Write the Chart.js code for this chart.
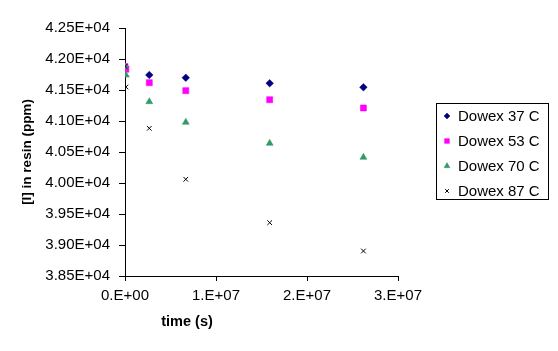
<!DOCTYPE html>
<html><head><meta charset="utf-8">
<script src="https://cdn.jsdelivr.net/npm/chart.js@4.4.0/dist/chart.umd.min.js"></script>
<style>html,body{margin:0;padding:0;background:#fff}</style>
</head><body>
<canvas id="c" width="558" height="351"></canvas>
<script>
// ---- data ----
const seriesNames = ['Dowex 37 C', 'Dowex 53 C', 'Dowex 70 C', 'Dowex 87 C'];
const time37 = [0, 2.67e6, 6.68e6, 1.59e7, 2.62e7];
const conc37 = [41876, 41742, 41698, 41608, 41544];
const time53 = [0, 1e5, 2.67e6, 6.68e6, 1.59e7, 2.62e7];
const conc53 = [41880, 41835, 41618, 41489, 41343, 41210];
const time70 = [0, 1e5, 2.67e6, 6.68e6, 1.59e7, 2.62e7];
const conc70 = [41880, 41740, 41311, 40979, 40640, 40414];
const time87 = [0, 1e5, 2.67e6, 6.68e6, 1.59e7, 2.62e7];
const conc87 = [41880, 41548, 40882, 40060, 39360, 38903];
const yTickValues = [38500, 39000, 39500, 40000, 40500, 41000, 41500, 42000, 42500];
const xTickValues = [0, 1e7, 2e7, 3e7];
const xTitle = 'time (s)';
const yTitle = '[I] in resin (ppm)';

const FONT = "'Liberation Sans', Arial, sans-serif";

function pts(t, c) { return t.map((v, i) => ({x: v, y: c[i]})); }
function fmtY(v) {
  const [m, e] = Number(v).toExponential(2).split('e');
  const sign = e[0] === '-' ? '-' : '+';
  const d = e.replace(/[+-]/, '').padStart(2, '0');
  return m + 'E' + sign + d;
}
function fmtX(v) {
  const [m, e] = Number(v).toExponential(0).split('e');
  const sign = e[0] === '-' ? '-' : '+';
  const d = e.replace(/[+-]/, '').padStart(2, '0');
  return m + '.E' + sign + d;
}

const styles = [
  {color: '#000080', pointStyle: 'rectRot', r: 3.8, lr: 3},
  {color: '#FF00FF', pointStyle: 'rect', r: 4.3, lr: 3.4},
  {color: '#339966', pointStyle: 'triangle', r: 4, lr: 3.4},
  {color: '#000000', pointStyle: 'crossRot', r: 3.3, lr: 2.6},
];
const seriesData = [pts(time37, conc37), pts(time53, conc53), pts(time70, conc70), pts(time87, conc87)];

const datasets = seriesNames.map((name, i) => {
  const s = styles[i];
  const isCross = s.pointStyle === 'crossRot';
  return {
    label: name,
    data: seriesData[i],
    pointStyle: s.pointStyle,
    pointRadius: s.r,
    pointHoverRadius: s.r,
    backgroundColor: isCross ? 'rgba(0,0,0,0)' : s.color,
    borderColor: s.color,
    pointBorderWidth: isCross ? 1 : 0.5,
    showLine: false,
    order: 3 - i,
    _legendRadius: s.lr,
  };
});

const legendPlugin = {
  id: 'boxLegend',
  afterDraw(chart) {
    const ctx = chart.ctx;
    ctx.save();
    ctx.strokeStyle = '#000';
    ctx.lineWidth = 1;
    ctx.strokeRect(436.5, 103.5, 112, 96);
    ctx.font = '15px ' + FONT;
    ctx.fillStyle = '#000';
    ctx.textBaseline = 'middle';
    ctx.textAlign = 'left';
    chart.data.datasets.forEach((ds, i) => {
      const y = 116 + i * 25;
      ctx.fillStyle = ds.backgroundColor;
      ctx.strokeStyle = ds.borderColor;
      ctx.lineWidth = ds.pointStyle === 'crossRot' ? 1 : 0.5;
      Chart.helpers.drawPoint(ctx, {pointStyle: ds.pointStyle, radius: ds._legendRadius, rotation: 0, borderWidth: ctx.lineWidth}, 447, y);
      ctx.fillStyle = '#000';
      ctx.fillText(ds.label, 458, y + 1);
    });
    // x axis title
    ctx.font = 'bold 14.5px ' + FONT;
    ctx.textAlign = 'center';
    ctx.fillText(xTitle, 187, 322);
    ctx.restore();
  }
};

new Chart(document.getElementById('c'), {
  type: 'scatter',
  data: {datasets},
  options: {
    responsive: false,
    animation: false,
    devicePixelRatio: 1,
    layout: {padding: {top: 28, right: 160, left: 0, bottom: 0}},
    plugins: {legend: {display: false}, tooltip: {enabled: false}},
    scales: {
      x: {
        type: 'linear',
        min: 0, max: 3e7,
        afterBuildTicks: s => { s.ticks = xTickValues.map(v => ({value: v})); },
        afterFit: s => { s.height = 75; },
        border: {color: '#000', width: 1},
        grid: {display: true, drawOnChartArea: false, drawTicks: true, tickLength: 5, color: '#000'},
        ticks: {callback: v => fmtX(v), color: '#000', font: {family: FONT, size: 15}, padding: 6, maxRotation: 0, autoSkip: false},
        title: {display: false},
      },
      y: {
        type: 'linear',
        min: 38500, max: 42500,
        afterBuildTicks: s => { s.ticks = yTickValues.map(v => ({value: v})); },
        afterFit: s => { s.width = 125; },
        border: {color: '#000', width: 1},
        grid: {display: true, drawOnChartArea: false, drawTicks: true, tickLength: 6, color: '#000'},
        ticks: {callback: v => fmtY(v), color: '#000', font: {family: FONT, size: 15}, padding: 9, autoSkip: false},
        title: {display: true, text: yTitle, color: '#000', font: {family: FONT, size: 13.5, weight: 'bold'}, padding: {top: 19, bottom: 0}},
      }
    }
  },
  plugins: [legendPlugin]
});
</script>
</body></html>
